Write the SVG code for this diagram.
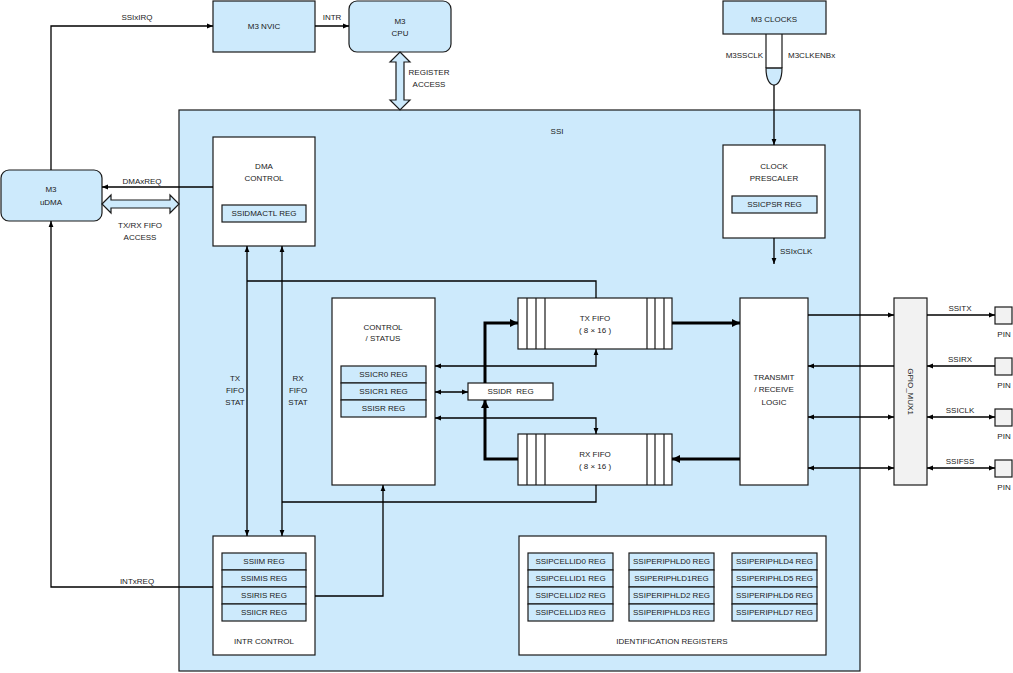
<svg xmlns="http://www.w3.org/2000/svg" width="1013" height="673" viewBox="0 0 1013 673">
<style>
text{font-family:"Liberation Sans",Arial,sans-serif;font-size:8px;fill:#1a1a1a;text-anchor:middle;dominant-baseline:central}
.b{fill:#ffffff;stroke:#1a1a1a;stroke-width:1.2}
.lb{fill:#cdeafc;stroke:#1a1a1a;stroke-width:1.2}
.gr{fill:#f2f2f2;stroke:#1a1a1a;stroke-width:1.2}
.w{fill:none;stroke:#1a1a1a;stroke-width:1.2}
.c{fill:none;stroke:#000;stroke-width:1.3}
.t{fill:none;stroke:#000;stroke-width:3}
.s{text-anchor:start}
.e{text-anchor:end}
</style>
<defs>
<marker id="a" viewBox="0 0 10 10" refX="10" refY="5" markerWidth="6" markerHeight="6" markerUnits="userSpaceOnUse" orient="auto-start-reverse"><path d="M0,1 L10,5 L0,9 z" fill="#000"/></marker>
<marker id="ab" viewBox="0 0 10 10" refX="10" refY="5" markerWidth="9" markerHeight="8" markerUnits="userSpaceOnUse" orient="auto-start-reverse"><path d="M0,0 L10,5 L0,10 z" fill="#000"/></marker>
</defs>

<g id="ssi">
<rect class="lb" x="179" y="110" width="681" height="561"/>
<text x="557" y="131">SSI</text>
</g>

<g id="nvic"><rect class="lb" x="213" y="1" width="102" height="51"/><text x="264" y="26">M3 NVIC</text></g>
<g id="cpu"><rect class="lb" x="349" y="1" width="102" height="51" rx="8"/><text x="400" y="21">M3</text><text x="400" y="33">CPU</text></g>
<g id="clocks"><rect class="lb" x="723" y="1" width="103" height="33"/><text x="774" y="19">M3 CLOCKS</text></g>
<g id="clkgate">
<path d="M766,68 C766,80 770,85 774,85 C778,85 782,80 782,68 Z" class="lb"/>
<path d="M766,34 V68 M782,34 V68 M766,68 H782" class="w"/>
<text class="e" x="763" y="55">M3SSCLK</text>
<text class="s" x="788" y="55">M3CLKENBx</text>
</g>
<g id="udma"><rect class="lb" x="1" y="170" width="101" height="51" rx="8"/><text x="51" y="189">M3</text><text x="51" y="202">uDMA</text></g>

<g id="dmactl">
<rect class="b" x="213" y="137" width="102" height="109"/>
<text x="264" y="166">DMA</text><text x="264" y="178">CONTROL</text>
<rect class="lb" x="222" y="205" width="84" height="17"/><text x="264" y="213.5">SSIDMACTL REG</text>
</g>

<g id="prescaler">
<rect class="b" x="723" y="145" width="102" height="93"/>
<text x="774" y="166">CLOCK</text><text x="774" y="178">PRESCALER</text>
<rect class="lb" x="732" y="196" width="85" height="17"/><text x="774.5" y="204.5">SSICPSR REG</text>
</g>

<g id="ctlstatus">
<rect class="b" x="332" y="298" width="103" height="187"/>
<text x="383" y="327">CONTROL</text><text x="383" y="338">/ STATUS</text>
<rect class="lb" x="341" y="366" width="85" height="17"/><text x="383.5" y="374.5">SSICR0 REG</text>
<rect class="lb" x="341" y="383" width="85" height="17"/><text x="383.5" y="391.5">SSICR1 REG</text>
<rect class="lb" x="341" y="400" width="85" height="17"/><text x="383.5" y="408.5">SSISR REG</text>
</g>

<g id="ssidr"><rect class="b" x="468" y="383" width="85" height="17"/><text x="510.5" y="391.5" xml:space="preserve">SSIDR  REG</text></g>

<g id="txfifo">
<rect class="b" x="518" y="298" width="154" height="51"/>
<path class="w" d="M527,298 V349 M536,298 V349 M545,298 V349 M647,298 V349 M655,298 V349 M664,298 V349"/>
<text x="595" y="318">TX FIFO</text><text x="595" y="330">( 8 × 16 )</text>
</g>
<g id="rxfifo">
<rect class="b" x="518" y="434" width="154" height="51"/>
<path class="w" d="M527,434 V485 M536,434 V485 M545,434 V485 M647,434 V485 M655,434 V485 M664,434 V485"/>
<text x="595" y="454">RX FIFO</text><text x="595" y="466">( 8 × 16 )</text>
</g>

<g id="txrxlogic">
<rect class="b" x="740" y="298" width="68" height="187"/>
<text x="774" y="377">TRANSMIT</text><text x="774" y="389">/ RECEIVE</text><text x="774" y="402">LOGIC</text>
</g>

<g id="gpio">
<rect class="gr" x="894" y="298" width="33" height="187"/>
<text transform="translate(910.5,391.5) rotate(90)" x="0" y="0">GPIO_MUX1</text>
</g>

<g id="pins">
<rect class="gr" x="995" y="307" width="17" height="17"/><text x="1004" y="334">PIN</text>
<rect class="gr" x="995" y="358" width="17" height="17"/><text x="1004" y="385">PIN</text>
<rect class="gr" x="995" y="409" width="17" height="17"/><text x="1004" y="436">PIN</text>
<rect class="gr" x="995" y="460" width="17" height="17"/><text x="1004" y="487">PIN</text>
</g>

<g id="intrctl">
<rect class="b" x="213" y="536" width="102" height="119"/>
<rect class="lb" x="222" y="553" width="84" height="17"/><text x="264" y="561.5">SSIIM REG</text>
<rect class="lb" x="222" y="570" width="84" height="17"/><text x="264" y="578.5">SSIMIS REG</text>
<rect class="lb" x="222" y="587" width="84" height="17"/><text x="264" y="595.5">SSIRIS REG</text>
<rect class="lb" x="222" y="604" width="84" height="17"/><text x="264" y="612.5">SSIICR REG</text>
<text x="264" y="641">INTR CONTROL</text>
</g>

<g id="idregs">
<rect class="b" x="519" y="536" width="307" height="119"/>
<rect class="lb" x="528" y="553" width="85" height="17"/><text x="570.5" y="561.5">SSIPCELLID0 REG</text>
<rect class="lb" x="528" y="570" width="85" height="17"/><text x="570.5" y="578.5">SSIPCELLID1 REG</text>
<rect class="lb" x="528" y="587" width="85" height="17"/><text x="570.5" y="595.5">SSIPCELLID2 REG</text>
<rect class="lb" x="528" y="604" width="85" height="17"/><text x="570.5" y="612.5">SSIPCELLID3 REG</text>
<rect class="lb" x="629" y="553" width="85" height="17"/><text x="671.5" y="561.5">SSIPERIPHLD0 REG</text>
<rect class="lb" x="629" y="570" width="85" height="17"/><text x="671.5" y="578.5">SSIPERIPHLD1REG</text>
<rect class="lb" x="629" y="587" width="85" height="17"/><text x="671.5" y="595.5">SSIPERIPHLD2 REG</text>
<rect class="lb" x="629" y="604" width="85" height="17"/><text x="671.5" y="612.5">SSIPERIPHLD3 REG</text>
<rect class="lb" x="732" y="553" width="85" height="17"/><text x="774.5" y="561.5">SSIPERIPHLD4 REG</text>
<rect class="lb" x="732" y="570" width="85" height="17"/><text x="774.5" y="578.5">SSIPERIPHLD5 REG</text>
<rect class="lb" x="732" y="587" width="85" height="17"/><text x="774.5" y="595.5">SSIPERIPHLD6 REG</text>
<rect class="lb" x="732" y="604" width="85" height="17"/><text x="774.5" y="612.5">SSIPERIPHLD7 REG</text>
<text x="672" y="641">IDENTIFICATION REGISTERS</text>
</g>

<g id="connectors">
<path class="c" d="M51,170 V26 H213" marker-end="url(#a)"/>
<text x="137" y="17">SSIxIRQ</text>
<path class="c" d="M315,26 H349" marker-end="url(#a)"/>
<text x="332" y="17">INTR</text>
<path class="lb" d="M400,52 L410,62 L404,62 L404,100 L410,100 L400,110 L390,100 L396,100 L396,62 L390,62 Z"/>
<text x="429" y="72">REGISTER</text><text x="429" y="84">ACCESS</text>
<path class="c" d="M774,85 V145" marker-end="url(#a)"/>
<path class="c" d="M774,238 V264" marker-end="url(#a)"/>
<text class="s" x="780" y="251">SSIxCLK</text>
<path class="c" d="M213,187 H102" marker-end="url(#a)"/>
<text x="142" y="181">DMAxREQ</text>
<path class="lb" d="M102,204 L111,195 L111,200 L170,200 L170,195 L179,204 L170,213 L170,208 L111,208 L111,213 Z"/>
<text x="140" y="225">TX/RX FIFO</text><text x="140" y="237">ACCESS</text>
<path class="c" d="M213,587 H51 V221" marker-end="url(#a)"/>
<text x="137" y="581">INTxREQ</text>
<path class="c" d="M247,246 V536" marker-start="url(#a)" marker-end="url(#a)"/>
<path class="c" d="M282,246 V536" marker-start="url(#a)" marker-end="url(#a)"/>
<text x="235" y="378">TX</text><text x="235" y="390">FIFO</text><text x="235" y="402">STAT</text>
<text x="298" y="378">RX</text><text x="298" y="390">FIFO</text><text x="298" y="402">STAT</text>
<path class="c" d="M247,281 H596 V298"/>
<path class="c" d="M282,502 H596 V485"/>
<path class="c" d="M315,596 H383 V485" marker-end="url(#a)"/>
<path class="c" d="M435,392 H468" marker-start="url(#a)" marker-end="url(#a)"/>
<path class="c" d="M435,366 H596 V349" marker-start="url(#a)" marker-end="url(#a)"/>
<path class="c" d="M435,418 H596 V434" marker-start="url(#a)" marker-end="url(#a)"/>
<path class="t" d="M485,383 V323 H518" marker-end="url(#ab)"/>
<path class="t" d="M518,459 H485 V400" marker-end="url(#ab)"/>
<path class="t" d="M672,323 H740" marker-end="url(#ab)"/>
<path class="t" d="M740,459 H672" marker-end="url(#ab)"/>
<path class="c" d="M808,315 H894" marker-end="url(#a)"/>
<path class="c" d="M894,366 H808" marker-end="url(#a)"/>
<path class="c" d="M808,417 H894" marker-start="url(#a)" marker-end="url(#a)"/>
<path class="c" d="M808,468 H894" marker-start="url(#a)" marker-end="url(#a)"/>
<path class="c" d="M927,315 H995" marker-end="url(#a)"/>
<path class="c" d="M995,366 H927" marker-end="url(#a)"/>
<path class="c" d="M927,417 H995" marker-start="url(#a)" marker-end="url(#a)"/>
<path class="c" d="M927,468 H995" marker-start="url(#a)" marker-end="url(#a)"/>
<text x="960" y="308">SSITX</text>
<text x="960" y="359">SSIRX</text>
<text x="960" y="410">SSICLK</text>
<text x="960" y="461">SSIFSS</text>
</g>
</svg>
